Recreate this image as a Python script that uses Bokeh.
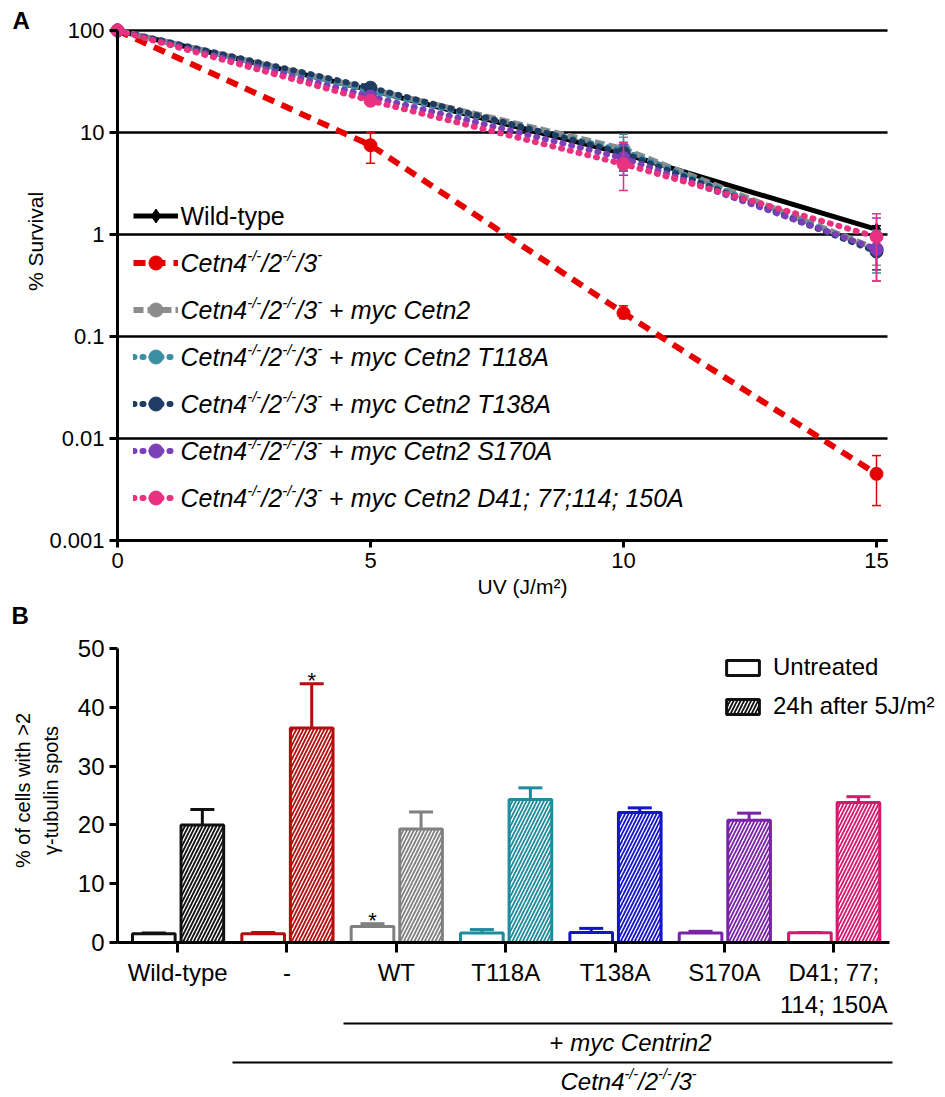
import math
from bokeh.plotting import figure
from bokeh.layouts import column
from bokeh.models import (ColumnDataSource, FixedTicker, Range1d, Label, Legend,
                          LegendItem, Arrow)
from bokeh.core.properties import value
from bokeh.transform import dodge
from bokeh.embed import file_html
from bokeh.resources import INLINE

FONT = "Liberation Sans"

# ---------------- Panel A data ----------------
doses = [0, 5, 10, 15]
wt_surv = [100, 26.0, 6.2, 1.12]
ko_surv = [100, 7.5, 0.17, 0.0045]
myc_surv = [100, 26.5, 6.9, 0.72]
t118_surv = [100, 25.5, 6.6, 0.70]
t138_surv = [100, 27.5, 6.3, 0.68]
s170_surv = [100, 22.5, 5.6, 0.72]
d41_surv = [100, 20.5, 4.9, 0.95]

err_doses = [5, 10, 15]
wt_lo, wt_hi = [24.5, 5.6, 1.02], [27.5, 6.8, 1.22]
ko_lo, ko_hi = [5.0, 0.15, 0.0022], [10.0, 0.20, 0.0068]
myc_lo, myc_hi = [24.0, 5.3, 0.50], [29.0, 9.0, 1.00]
t118_lo, t118_hi = [23.5, 4.6, 0.42], [27.5, 9.6, 1.10]
t138_lo, t138_hi = [25.5, 4.2, 0.45], [29.5, 8.0, 1.00]
s170_lo, s170_hi = [20.5, 3.8, 0.35], [24.5, 7.6, 1.45]
d41_lo, d41_hi = [18.5, 2.7, 0.35], [23.0, 8.0, 1.60]

x_ticks = [0, 5, 10, 15]
y_ticks = [0.001, 0.01, 0.1, 1, 10, 100]
y_tick_labels = ["0.001", "0.01", "0.1", "1", "10", "100"]

CETN = [("Cetn4", True, False), ("-/-", True, True), ("/2", True, False),
        ("-/-", True, True), ("/3", True, False), ("-", True, True)]
PLUS = [(" + ", False, False)]
legend_a = [
    [("Wild-type", False, False)],
    CETN,
    CETN + PLUS + [("myc Cetn2", True, False)],
    CETN + PLUS + [("myc Cetn2 T118A", True, False)],
    CETN + PLUS + [("myc Cetn2 T138A", True, False)],
    CETN + PLUS + [("myc Cetn2 S170A", True, False)],
    CETN + PLUS + [("myc Cetn2 D41; 77;114; 150A", True, False)],
]

# ---------------- Panel B data ----------------
groups = ["Wild-type", "-", "WT", "T118A", "T138A", "S170A", "D41; 77;\n114; 150A"]
untreated = [1.5, 1.5, 2.7, 1.6, 1.7, 1.6, 1.65]
untreated_err = [0.1, 0.2, 0.5, 0.6, 0.7, 0.3, 0.05]
treated = [20.0, 36.5, 19.3, 24.3, 22.1, 20.8, 23.8]
treated_err = [2.6, 7.5, 2.9, 2.0, 0.8, 1.2, 1.0]
star_untreated = ["", "", "*", "", "", "", ""]
star_treated = ["", "*", "", "", "", "", ""]
bar_colors = ["#111111", "#b30d0d", "#808080", "#1f8c9e", "#1414cc", "#7a22a8", "#d9176f"]
y_ticks_b = [0, 10, 20, 30, 40, 50]
legend_b = ["Untreated", "24h after 5J/m\u00b2"]

# ---------------- text helpers ----------------
AW = {' ': 278, '-': 333, '/': 278, '+': 584, ';': 278, ':': 278, ',': 278, '.': 278,
      '%': 889, '>': 584, '(': 333, ')': 333, '*': 389, '\u03b3': 500, '\u00b2': 333}
for c in "0123456789":
    AW[c] = 556
AW.update(dict(zip("ABCDEFGHIJKLMNOPQRSTUVWXYZ",
                   [667, 667, 722, 722, 667, 611, 778, 722, 278, 500, 667, 556, 833,
                    722, 778, 667, 778, 722, 667, 611, 722, 667, 944, 667, 667, 611])))
AW.update(dict(zip("abcdefghijklmnopqrstuvwxyz",
                   [556, 556, 500, 556, 556, 278, 556, 556, 222, 222, 500, 222, 833,
                    556, 556, 556, 556, 333, 500, 278, 556, 500, 722, 500, 500, 500])))


def text_w(s, size):
    return sum(AW.get(c, 556) for c in s) * size / 1000.0


def label(fig, x, y, text, size, style="normal", align="left", angle=0.0):
    fig.add_layout(Label(x=x, y=y, x_units="screen", y_units="screen", text=text,
                         text_font=FONT, text_font_size=f"{size:.1f}px",
                         text_font_style=style, text_align=align, text_baseline="middle",
                         angle=angle, text_color="black"))


def rich(fig, x, y, segs, size, align="left"):
    """y is the vertical middle of the line, frame-relative screen units (up)."""
    items = []
    total = 0.0
    for t, it, sup in segs:
        fs = size * 0.6 if sup else size
        w = text_w(t, fs)
        items.append((t, it, sup, fs, w))
        total += w
    if align == "center":
        x -= total / 2
    for t, it, sup, fs, w in items:
        lead = len(t) - len(t.lstrip(" "))
        core = t.strip(" ")
        cx = x + text_w(" " * lead, fs)
        if core:
            label(fig, cx, y + (size * 0.30 if sup else 0), core, fs,
                  style="italic" if it else "normal")
        x += w


def style_axis(ax, size):
    ax.axis_line_width = 3
    ax.axis_line_color = "black"
    ax.major_tick_line_width = 3
    ax.major_tick_line_color = "black"
    ax.major_tick_in = 0
    ax.minor_tick_line_color = None
    ax.major_label_text_font = FONT
    ax.major_label_text_font_size = size
    ax.major_label_text_color = "black"


# ---------------- Panel A ----------------
# frame covers the whole canvas; axes are pinned inside it
A_W, A_H = 945, 602
A_X0, A_PXU = 117, 759 / 15.0          # pixel of x=0, pixels per J/m2
A_YBOT, A_PXD = 540, 102.0             # pixel of 0.001, pixels per decade
A_XEND = (887 - A_X0) / A_PXU          # right end of axis / reference lines
pA = figure(width=A_W, height=A_H,
            x_range=Range1d(-A_X0 / A_PXU, (A_W - A_X0) / A_PXU),
            y_range=Range1d(10 ** (-3 - (A_H - A_YBOT) / A_PXD),
                            10 ** (-3 + A_YBOT / A_PXD)),
            y_axis_type="log", output_backend="svg", toolbar_location=None, min_border=0)
pA.outline_line_color = None
pA.grid.grid_line_color = None
pA.xaxis.ticker = FixedTicker(ticks=x_ticks)
pA.yaxis.ticker = FixedTicker(ticks=y_ticks)
pA.yaxis.major_label_overrides = {float(t): l for t, l in zip(y_ticks, y_tick_labels)}
style_axis(pA.xaxis[0], "22px")
style_axis(pA.yaxis[0], "22px")
pA.xaxis.fixed_location = y_ticks[0]
pA.yaxis.fixed_location = x_ticks[0]
pA.xaxis.bounds = (x_ticks[0], A_XEND)
pA.yaxis.bounds = (y_ticks[0], y_ticks[-1])
pA.xaxis.major_tick_out = 7
pA.yaxis.major_tick_out = 8
pA.xaxis.major_label_standoff = 5
pA.yaxis.major_label_standoff = 5

# horizontal reference lines at every decade tick (axis to right end)
pA.segment(x0=[x_ticks[0]] * len(y_ticks), y0=y_ticks, x1=[A_XEND] * len(y_ticks), y1=y_ticks,
           line_color="black", line_width=2.5, level="underlay")

seriesA = [
    (wt_surv, wt_lo, wt_hi, "#000000", "solid", "butt", "diamond"),
    (ko_surv, ko_lo, ko_hi, "#e60000", "12 8", "butt", "circle"),
    (myc_surv, myc_lo, myc_hi, "#8c8c8c", "10 4", "butt", "circle"),
    (t118_surv, t118_lo, t118_hi, "#3b8fa5", "1 8", "round", "circle"),
    (t138_surv, t138_lo, t138_hi, "#1f3c63", "1 8", "round", "circle"),
    (s170_surv, s170_lo, s170_hi, "#7b3fb8", "1 8", "round", "circle"),
    (d41_surv, d41_lo, d41_hi, "#e8317f", "1 8", "round", "circle"),
]

leg_items = []
for vals, lo, hi, col, dash, cap, mk in seriesA:
    src = ColumnDataSource(dict(x=doses, y=vals))
    esrc = ColumnDataSource(dict(x=err_doses, lo=lo, hi=hi))
    pA.segment(x0="x", y0="lo", x1="x", y1="hi", source=esrc, line_color=col, line_width=1.5)
    pA.scatter(x="x", y="lo", source=esrc, marker="dash", size=9, line_color=col, line_width=1.5)
    pA.scatter(x="x", y="hi", source=esrc, marker="dash", size=9, line_color=col, line_width=1.5)
    lr = pA.line(x="x", y="y", source=src, line_color=col, line_width=6 if mk == "circle" else 5,
                 line_dash=dash, line_cap=cap)
    sr = pA.scatter(x="x", y="y", source=src, marker=mk, size=13, fill_color=col, line_color=col)
    leg_items.append(LegendItem(label=" ", renderers=[lr, sr]))

legA = Legend(items=leg_items, location=(133, A_H - 514.5), glyph_width=45, glyph_height=35,
              label_height=35, label_width=0, label_standoff=0, spacing=12, padding=0,
              margin=0, border_line_color=None, background_fill_alpha=0,
              label_text_font_size="1px")
pA.add_layout(legA)

for i, segs in enumerate(legend_a):
    rich(pA, 180, A_H - (215 + 47 * i), segs, 25)

label(pA, 12, A_H - 20, "A", 24, style="bold")
label(pA, 35, A_H - 241, "% Survival", 21, align="center", angle=math.pi / 2)
label(pA, 522, A_H - 586, "UV (J/m\u00b2)", 21, align="center")

# ---------------- Panel B ----------------
B_W, B_H, B_TOP = 945, 495, 602        # canvas spans page y 602..1097
B_X0, B_XMIN, B_PXU = 117, 0.45, 109.35
B_Y0, B_PXV = 942, 5.88
group_pos = list(range(1, len(groups) + 1))
pB = figure(width=B_W, height=B_H,
            x_range=Range1d(B_XMIN - B_X0 / B_PXU, B_XMIN + (B_W - B_X0) / B_PXU),
            y_range=Range1d(-(B_TOP + B_H - B_Y0) / B_PXV, (B_Y0 - B_TOP) / B_PXV),
            output_backend="svg", toolbar_location=None, min_border=0)
pB.outline_line_color = None
pB.grid.grid_line_color = None
pB.xaxis.ticker = FixedTicker(ticks=group_pos)
pB.xaxis.major_label_overrides = {p: g for p, g in zip(group_pos, groups)}
pB.yaxis.ticker = FixedTicker(ticks=y_ticks_b)
style_axis(pB.xaxis[0], "24px")
style_axis(pB.yaxis[0], "24px")
pB.xaxis.fixed_location = y_ticks_b[0]
pB.yaxis.fixed_location = B_XMIN
pB.xaxis.bounds = (B_XMIN, B_XMIN + (889 - B_X0) / B_PXU)
pB.yaxis.bounds = (y_ticks_b[0], y_ticks_b[-1])
pB.xaxis.major_tick_out = 10
pB.yaxis.major_tick_out = 8
pB.xaxis.major_label_standoff = 6
pB.yaxis.major_label_standoff = 5

srcB = ColumnDataSource(dict(
    x=group_pos, untreated=untreated, treated=treated,
    untreated_hi=[v + e for v, e in zip(untreated, untreated_err)],
    treated_hi=[v + e for v, e in zip(treated, treated_err)],
    color=bar_colors, star_u=star_untreated, star_t=star_treated))

DU, DT, BW = -0.218, 0.226, 0.39
ru = pB.vbar(x=dodge("x", DU), top="untreated", width=BW, source=srcB, fill_color="white",
             line_color="color", line_width=3)
rt = pB.vbar(x=dodge("x", DT), top="treated", width=BW, source=srcB, fill_color="white",
             line_color="color", line_width=3, hatch_pattern="/", hatch_color="color",
             hatch_scale=7, hatch_weight=1.8)
for off, lo, hi, st in [(DU, "untreated", "untreated_hi", "star_u"),
                        (DT, "treated", "treated_hi", "star_t")]:
    pB.segment(x0=dodge("x", off), y0=lo, x1=dodge("x", off), y1=hi, source=srcB,
               line_color="color", line_width=3)
    pB.scatter(x=dodge("x", off), y=hi, source=srcB, marker="dash", size=24,
               line_color="color", line_width=3)
    pB.text(x=dodge("x", off), y=hi, text=st, source=srcB, text_font=value(FONT),
            text_font_size="22px", text_align="center", text_baseline="alphabetic",
            y_offset=-3, text_color="black")

legB = Legend(items=[LegendItem(label=legend_b[0], renderers=[ru], index=0),
                     LegendItem(label=legend_b[1], renderers=[rt], index=0)],
              location=(722, B_H - (653 + 67 - B_TOP)), glyph_width=41, glyph_height=19,
              label_standoff=10, spacing=11, padding=0, margin=0, border_line_color=None,
              background_fill_alpha=0, label_text_font=FONT, label_text_font_size="24px",
              label_text_color="black")
pB.add_layout(legB)


def by(page_y):
    return B_TOP + B_H - page_y


label(pB, 11, by(615), "B", 24, style="bold")
label(pB, 22, by(790), "% of cells with >2", 20, align="center", angle=math.pi / 2)
label(pB, 50, by(790), "\u03b3-tubulin spots", 20, align="center", angle=math.pi / 2)

pB.add_layout(Arrow(end=None, x_start=343, y_start=by(1023), x_end=892, y_end=by(1023),
                    start_units="screen", end_units="screen", line_width=2, line_color="black"))
pB.add_layout(Arrow(end=None, x_start=232, y_start=by(1062), x_end=892, y_end=by(1062),
                    start_units="screen", end_units="screen", line_width=2, line_color="black"))
rich(pB, 630, by(1042), [("+ ", False, False), ("myc Centrin2", True, False)], 24,
     align="center")
rich(pB, 628, by(1081), CETN, 24, align="center")

layout = column(pA, pB)
open("out.html", "w").write(file_html(layout, INLINE))
